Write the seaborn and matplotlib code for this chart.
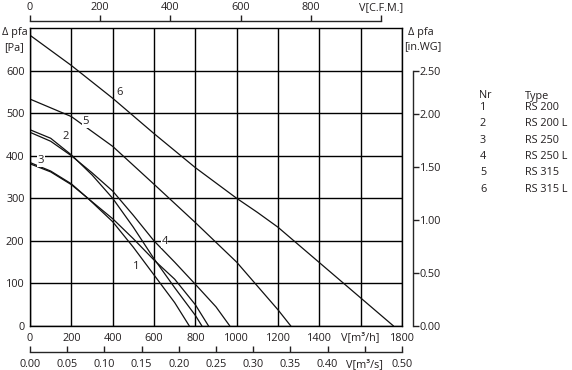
import matplotlib
matplotlib.use('Agg')
import matplotlib.pyplot as plt
import seaborn as sns
import pandas as pd

# fan curves: air flow V [m3/h] vs static pressure [Pa]
curve_nr = ['1', '2', '3', '4', '5', '6']
curve_type = ['RS 200', 'RS 200 L', 'RS 250', 'RS 250 L', 'RS 315', 'RS 315 L']
v1 = [0, 100, 200, 280, 400, 500, 600, 700, 771]
p1 = [381, 362, 332, 300, 245, 185, 120, 55, 0]
v2 = [0, 100, 200, 300, 400, 500, 600, 700, 800, 832]
p2 = [461, 441, 402, 355, 300, 232, 158, 90, 25, 0]
v3 = [0, 100, 200, 280, 400, 500, 600, 700, 800, 864]
p3 = [384, 364, 334, 300, 252, 205, 155, 110, 50, 0]
v4 = [0, 100, 200, 300, 400, 500, 600, 700, 800, 900, 967]
p4 = [455, 434, 400, 360, 317, 260, 200, 150, 98, 45, 0]
v5 = [0, 200, 400, 600, 800, 1000, 1200, 1262]
p5 = [533, 492, 422, 333, 243, 150, 38, 0]
v6 = [0, 200, 400, 600, 800, 1000, 1100, 1200, 1400, 1600, 1759]
p6 = [683, 612, 535, 452, 372, 300, 267, 232, 149, 66, 0]

# curve number labels (V, P)
lab_v = [514, 172, 53, 651, 270, 434]
lab_p = [140, 445, 388, 198, 480, 548]

x_ticks = [0, 200, 400, 600, 800, 1000, 1200, 1400, 1600, 1800]
x_labels = ['0', '200', '400', '600', '800', '1000', '1200', '1400', 'V[m³/h]', '1800']
y_ticks = [0, 100, 200, 300, 400, 500, 600]
cfm_ticks = [0, 200, 400, 600, 800, 1000]
cfm_labels = ['0', '200', '400', '600', '800', 'V[C.F.M.]']
m3s_ticks = [0, 0.05, 0.10, 0.15, 0.20, 0.25, 0.30, 0.35, 0.40, 0.45, 0.50]
m3s_labels = ['0.00', '0.05', '0.10', '0.15', '0.20', '0.25', '0.30', '0.35', '0.40', 'V[m³/s]', '0.50']
inwg_labels = ['0.00', '0.50', '1.00', '1.50', '2.00', '2.50']
inwg_pos_pa = [0, 124.5, 249, 373.5, 498, 600]

rows = []
for nr, vs, ps in zip(curve_nr, [v1, v2, v3, v4, v5, v6], [p1, p2, p3, p4, p5, p6]):
    for v, p in zip(vs, ps):
        rows.append({'nr': nr, 'V': v, 'P': p})
df = pd.DataFrame(rows)

sns.set_style('white')
plt.rcParams['font.family'] = ['Open Sans', 'DejaVu Sans']
fs = 7.8
tc = '#231f20'

W, H = 572, 370
fig = plt.figure(figsize=(W / 100, H / 100), dpi=100)
ax = fig.add_axes([30 / W, 1 - 326 / H, 372 / W, 298 / H])

sns.lineplot(data=df, x='V', y='P', hue='nr', palette=['#111111'] * 6, estimator=None,
             sort=False, legend=False, linewidth=0.9, ax=ax)

ax.set_xlim(0, 1800)
ax.set_ylim(0, 700)
ax.set_xticks(x_ticks)
ax.set_xticklabels(x_labels)
ax.set_yticks(y_ticks)
ax.tick_params(length=0, labelsize=fs, colors=tc)
ax.tick_params(axis='y', pad=4)
ax.tick_params(axis='x', pad=10.5)
for t in ax.get_xticklabels():
    t.set_va('baseline')
ax.grid(True, color='black', linewidth=1.0)
ax.set_xlabel('')
ax.set_ylabel('')
for s in ax.spines.values():
    s.set_color('black')
    s.set_linewidth(1.0)

for t, v, p in zip(curve_nr, lab_v, lab_p):
    ax.text(v, p, t, fontsize=fs + 0.3, ha='center', va='center', color=tc,
            bbox=dict(facecolor='white', edgecolor='none', pad=0.3))

# top axis in C.F.M.
axt = ax.twiny()
axt.set_xlim(0, 1800 / 1.699)
axt.set_xticks(cfm_ticks)
axt.set_xticklabels(cfm_labels)
axt.tick_params(axis='x', direction='out', length=4.5, width=1, labelsize=fs, pad=1, colors=tc)
for k in ['left', 'right', 'bottom']:
    axt.spines[k].set_visible(False)
axt.spines['top'].set_position(('outward', 5))
axt.spines['top'].set_bounds(0, 1000)
axt.spines['top'].set_linewidth(1.0)

# bottom axis in m3/s
axb = ax.twiny()
axb.set_xlim(0, 0.5)
axb.xaxis.set_ticks_position('bottom')
axb.xaxis.set_label_position('bottom')
axb.set_xticks(m3s_ticks)
axb.set_xticklabels(m3s_labels)
axb.tick_params(axis='x', direction='in', length=4, width=1, labelsize=fs, pad=5, colors=tc)
for t in axb.get_xticklabels():
    t.set_va('baseline')
for k in ['left', 'right', 'top']:
    axb.spines[k].set_visible(False)
axb.spines['bottom'].set_visible(True)
axb.spines['bottom'].set_position(('outward', 18.5))
axb.spines['bottom'].set_bounds(0, 0.5)
axb.spines['bottom'].set_linewidth(1.0)

# right axis in in.WG
axr = ax.twinx()
axr.set_ylim(0, 700)
axr.set_yticks(inwg_pos_pa)
axr.set_yticklabels(inwg_labels)
axr.tick_params(axis='y', direction='out', length=4, width=1, labelsize=fs, pad=1, colors=tc)
for k in ['left', 'top', 'bottom']:
    axr.spines[k].set_visible(False)
axr.spines['right'].set_position(('outward', 7.7))
axr.spines['right'].set_bounds(0, 600)
axr.spines['right'].set_linewidth(1.0)

def px(x, y):
    return x / W, 1 - y / H

fig.text(*px(2, 32), 'Δ pfa', fontsize=fs, va='center', ha='left', color=tc)
fig.text(*px(4, 48), '[Pa]', fontsize=fs, va='center', ha='left', color=tc)
fig.text(*px(408, 32), 'Δ pfa', fontsize=fs, va='center', ha='left', color=tc)
fig.text(*px(404, 47), '[in.WG]', fontsize=fs, va='center', ha='left', color=tc)

fig.text(*px(479, 96), 'Nr', fontsize=fs, va='center', ha='left', color=tc)
fig.text(*px(525, 96), 'Type', fontsize=fs, va='center', ha='left', color=tc)
for i, (nr, tp) in enumerate(zip(curve_nr, curve_type)):
    y = 107.5 + 16.3 * i
    fig.text(*px(480, y), nr, fontsize=fs, va='center', ha='left', color=tc)
    fig.text(*px(525, y), tp, fontsize=fs, va='center', ha='left', color=tc)

fig.savefig('out.png', dpi=100)
